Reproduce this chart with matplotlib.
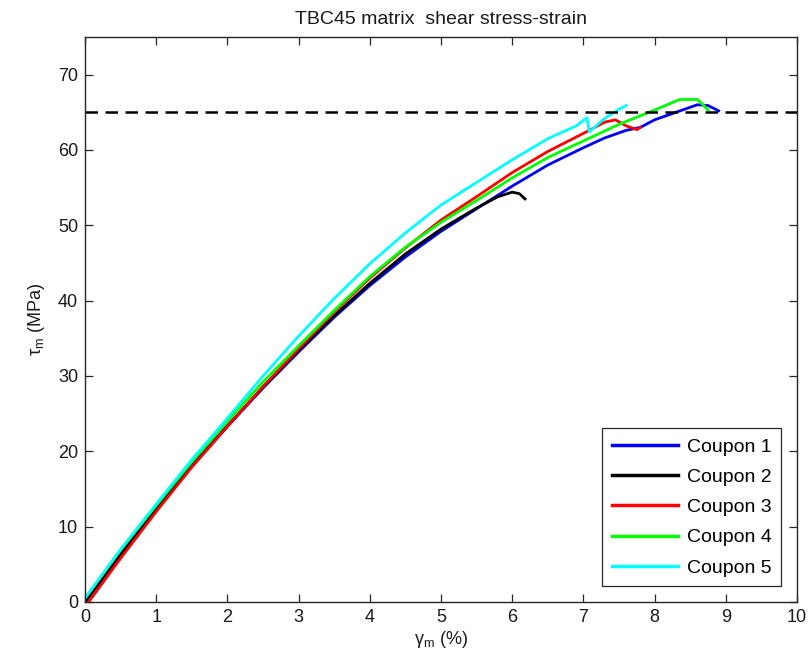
import matplotlib
matplotlib.use("Agg")
import matplotlib.pyplot as plt

plt.rcParams['font.family'] = ['Liberation Sans', 'DejaVu Sans']
plt.rcParams['mathtext.default'] = 'regular'

# Shear strain (%) and shear stress (MPa) for each coupon
c1_strain = [0, 0.5, 1, 1.5, 2, 2.5, 3, 3.5, 4, 4.5, 5, 5.5, 6, 6.5, 7, 7.3, 7.6, 7.8, 8.0, 8.3, 8.6, 8.75, 8.9]
c1_stress = [0, 6.3, 12.4, 18.0, 23.3, 28.4, 33.2, 37.8, 42.0, 45.8, 49.2, 52.2, 55.2, 58.0, 60.3, 61.6, 62.6, 63.0, 64.0, 65.0, 66.0, 65.9, 65.2]

c2_strain = [0, 0.5, 1, 1.5, 2, 2.5, 3, 3.5, 4, 4.5, 5, 5.5, 5.8, 6.0, 6.1, 6.18]
c2_stress = [0, 6.4, 12.5, 18.1, 23.4, 28.5, 33.4, 38.0, 42.3, 46.2, 49.5, 52.3, 53.8, 54.4, 54.2, 53.5]

c3_strain = [0.05, 0.5, 1, 1.5, 2, 2.5, 3, 3.5, 4, 4.5, 5, 5.5, 6, 6.5, 7, 7.3, 7.45, 7.6, 7.75, 7.8]
c3_stress = [0, 5.8, 12.0, 17.9, 23.3, 28.6, 33.6, 38.5, 43.0, 47.0, 50.7, 53.8, 57.0, 59.8, 62.2, 63.7, 64.0, 63.2, 62.7, 63.0]

c4_strain = [0, 0.5, 1, 1.5, 2, 2.5, 3, 3.5, 4, 4.5, 5, 5.5, 6, 6.5, 7, 7.5, 8, 8.35, 8.6, 8.68, 8.75]
c4_stress = [0.5, 6.9, 12.8, 18.6, 24.0, 29.2, 34.0, 38.7, 43.2, 47.1, 50.4, 53.3, 56.3, 59.0, 61.2, 63.4, 65.3, 66.7, 66.7, 66.0, 65.3]

c5_strain = [0, 0.5, 1, 1.5, 2, 2.5, 3, 3.5, 4, 4.5, 5, 5.5, 6, 6.5, 6.9, 7.05, 7.08, 7.3, 7.5, 7.6]
c5_stress = [0.5, 7.0, 13.0, 18.9, 24.4, 30.0, 35.3, 40.3, 44.9, 49.0, 52.7, 55.7, 58.7, 61.5, 63.2, 64.3, 62.4, 64.2, 65.4, 65.9]

series_labels = ['Coupon 1', 'Coupon 2', 'Coupon 3', 'Coupon 4', 'Coupon 5']
series_colors = ['#0000ff', '#000000', '#ff0000', '#00ff00', '#00ffff']
strength = 65.1

fig = plt.figure(figsize=(8.12, 6.72), dpi=100)
ax = fig.add_axes([0.1047, 0.1042, 0.8768, 0.8408])

data = [(c1_strain, c1_stress), (c2_strain, c2_stress), (c3_strain, c3_stress),
        (c4_strain, c4_stress), (c5_strain, c5_stress)]
for (xs, ys), lab, col in zip(data, series_labels, series_colors):
    ax.plot(xs, ys, color=col, lw=2.0, label=lab)

ax.axhline(strength, color='black', lw=1.8, ls=(0, (5, 3)))

ax.set_xlim(0, 10)
ax.set_ylim(0, 75)
ax.set_xticks(range(0, 11))
ax.set_yticks(range(0, 71, 10))

edge = '#262626'
for s in ax.spines.values():
    s.set_color(edge)
    s.set_linewidth(1.0)
ax.tick_params(direction='in', length=6, width=0.9, top=True, right=True,
               labelsize=13, colors=edge, labelcolor='#1a1a1a', pad=5)

ax.set_title('TBC45 matrix  shear stress-strain', fontsize=14, color='#1a1a1a', pad=9)
ax.set_xlabel(r'$\gamma_m$ (%)', fontsize=13, color='#1a1a1a', labelpad=2)
ax.set_ylabel(r'$\tau_m$ (MPa)', fontsize=13, color='#1a1a1a', labelpad=8)

leg = ax.legend(loc='lower right', fontsize=14, fancybox=False, framealpha=1,
                edgecolor=edge, handlelength=3.4, handletextpad=0.45,
                labelspacing=0.65, borderaxespad=0.8, borderpad=0.5)
leg.get_frame().set_linewidth(0.9)
for line in leg.get_lines():
    line.set_linewidth(2.5)

fig.savefig('out.png', dpi=100)
